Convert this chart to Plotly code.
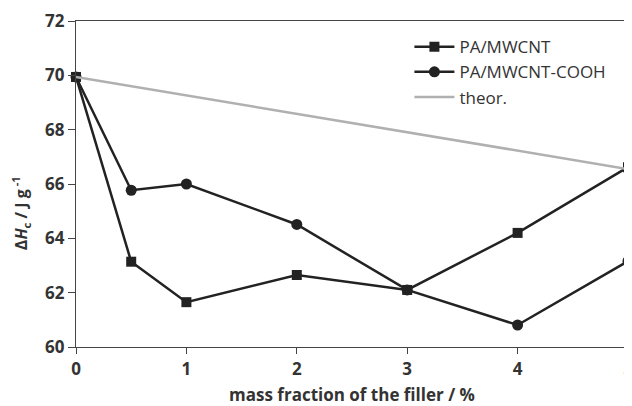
import plotly.graph_objects as go

x_vals = [0, 0.5, 1, 2, 3, 4, 5]
mwcnt = [69.94, 63.14, 61.65, 62.65, 62.1, 64.2, 66.62]
mwcnt_cooh = [69.94, 65.77, 66.0, 64.51, 62.1, 60.81, 63.16]
theor_x = [0, 5]
theor = [69.94, 66.55]

fig = go.Figure()
fig.add_trace(go.Scatter(x=x_vals, y=mwcnt, name="PA/MWCNT", mode="lines+markers",
                         line=dict(color="#222222", width=2.5), cliponaxis=False,
                         marker=dict(symbol="square", size=10, color="#222222")))
fig.add_trace(go.Scatter(x=x_vals, y=mwcnt_cooh, name="PA/MWCNT-COOH", mode="lines+markers",
                         line=dict(color="#222222", width=2.5), cliponaxis=False,
                         marker=dict(symbol="circle", size=11, color="#222222")))
fig.add_trace(go.Scatter(x=theor_x, y=theor, name="theor.", mode="lines",
                         line=dict(color="#b0b0b0", width=2.5), cliponaxis=False))

font_family = "Open Sans, Liberation Sans, sans-serif"
# page body has an 8px default margin, so the figure is sized to fit inside it
fig.update_layout(
    width=624, height=398,
    margin=dict(l=67.5, r=4, t=12.7, b=59),
    paper_bgcolor="white", plot_bgcolor="white",
    font=dict(family=font_family, color="#333333"),
    showlegend=True,
    legend=dict(x=0.604, y=0.975, xanchor="left", yanchor="top",
                bgcolor="rgba(0,0,0,0)", font=dict(size=17, color="#333333"),
                tracegroupgap=0, itemwidth=40),
    annotations=[dict(text="<b>Δ<i>H</i><sub>c</sub> / J g<sup> -1</sup></b>",
                      xref="paper", yref="paper", x=-0.1, y=0.41,
                      xanchor="center", yanchor="middle", textangle=-90,
                      showarrow=False, font=dict(size=16, color="#333333", family=font_family))],
)
fig.update_xaxes(range=[0, 5], tickvals=[0, 1, 2, 3, 4, 5], showgrid=False, zeroline=False,
                 showline=True, linecolor="#444444", linewidth=1.2, mirror=True, automargin=False,
                 ticks="outside", ticklen=6, tickcolor="#444444", ticklabeloverflow="allow",
                 tickfont=dict(size=17, family=font_family, color="#333333", weight="bold"),
                 title=dict(text="<b>mass fraction of the filler / %</b>", font=dict(size=17), standoff=15))
fig.update_yaxes(range=[60, 72], tickvals=[60, 62, 64, 66, 68, 70, 72], showgrid=False, zeroline=False,
                 showline=True, linecolor="#444444", linewidth=1.2, mirror=True, automargin=False,
                 ticks="outside", ticklen=7, tickcolor="#444444", ticksuffix="\u00a0\u00a0",
                 tickfont=dict(size=17, family=font_family, color="#333333", weight="bold"))

fig.write_html("out.html")
